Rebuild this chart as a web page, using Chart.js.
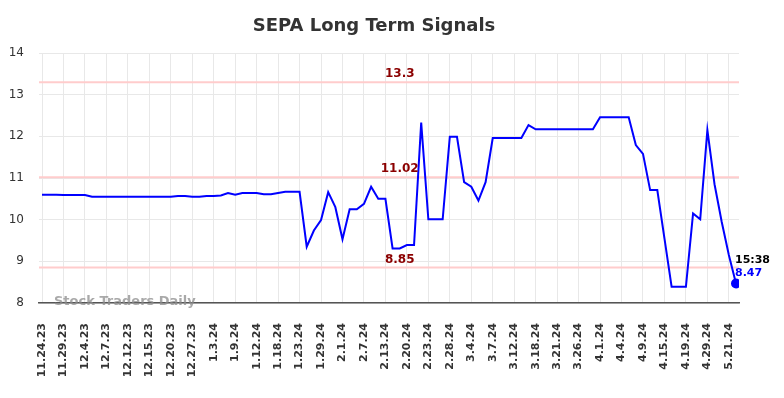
<!DOCTYPE html>
<html>
<head>
<meta charset="utf-8">
<script src="https://cdn.jsdelivr.net/npm/chart.js@4.4.1/dist/chart.umd.min.js"></script>
<style>
    html, body { margin: 0; padding: 0; background: #fff; }
    #wrap { width: 784px; height: 398px; position: relative; }
</style>
</head>
<body>
<div id="wrap"><canvas id="sepaChart"></canvas></div>
<script>
// Tick labels (one every 3 points)
const tickLabels = [
    '11.24.23', '11.29.23', '12.4.23', '12.7.23', '12.12.23', '12.15.23', '12.20.23', '12.27.23',
    '1.3.24', '1.9.24', '1.12.24', '1.18.24', '1.23.24', '1.29.24', '2.1.24', '2.7.24',
    '2.13.24', '2.20.24', '2.23.24', '2.28.24', '3.4.24', '3.7.24', '3.12.24', '3.18.24',
    '3.21.24', '3.26.24', '4.1.24', '4.4.24', '4.9.24', '4.15.24', '4.19.24', '4.29.24', '5.21.24'
];

// Signal values
const signalValues = [
    10.60, 10.60, 10.60, 10.59, 10.59, 10.59, 10.59, 10.55, 10.55, 10.55,
    10.55, 10.55, 10.55, 10.55, 10.55, 10.55, 10.55, 10.55, 10.55, 10.57,
    10.57, 10.55, 10.55, 10.57, 10.57, 10.58, 10.64, 10.60, 10.64, 10.64,
    10.64, 10.61, 10.61, 10.64, 10.67, 10.67, 10.67, 9.35, 9.74, 9.99,
    10.66, 10.30, 9.53, 10.25, 10.25, 10.38, 10.79, 10.50, 10.50, 9.31,
    9.31, 9.39, 9.39, 12.33, 10.01, 10.01, 10.01, 11.99, 11.99, 10.90,
    10.79, 10.46, 10.90, 11.96, 11.96, 11.96, 11.96, 11.96, 12.27, 12.17,
    12.17, 12.17, 12.17, 12.17, 12.17, 12.17, 12.17, 12.17, 12.46, 12.46,
    12.46, 12.46, 12.46, 11.79, 11.58, 10.71, 10.71, 9.55, 8.39, 8.39,
    8.39, 10.15, 10.01, 12.15, 10.85, 9.95, 9.15, 8.47
];

// Horizontal signal levels
const levelValues = [13.3, 11.02, 8.85];
const levelLabels = ['13.3', '11.02', '8.85'];

const lastTime = '15:38';
const lastIndex = signalValues.length - 1;

// draws title, level lines, watermark and last value tag
const extrasPlugin = {
    id: 'extras',
    beforeDatasetsDraw(chart) {
        const { ctx, chartArea, scales } = chart;
        ctx.save();
        ctx.strokeStyle = '#ffcccc';
        ctx.lineWidth = 2;
        levelValues.forEach(v => {
            const y = scales.y.getPixelForValue(v);
            ctx.beginPath();
            ctx.moveTo(chartArea.left, y);
            ctx.lineTo(chartArea.right, y);
            ctx.stroke();
        });
        ctx.restore();
    },
    afterDatasetsDraw(chart) {
        const { ctx, chartArea, scales } = chart;
        ctx.save();
        // title
        ctx.fillStyle = '#333';
        ctx.font = 'bold 18px "DejaVu Sans"';
        ctx.textAlign = 'center';
        ctx.textBaseline = 'middle';
        ctx.fillText('SEPA Long Term Signals', 374, 26);

        // level labels
        ctx.fillStyle = '#8b0000';
        ctx.font = 'bold 12px "DejaVu Sans"';
        const labelX = scales.x.getPixelForValue(50);
        levelValues.forEach((v, i) => {
            const y = scales.y.getPixelForValue(v);
            ctx.fillText(levelLabels[i], labelX, y - 8);
        });

        // watermark
        ctx.fillStyle = 'rgba(140,140,140,0.75)';
        ctx.font = 'bold 13px "DejaVu Sans"';
        ctx.textAlign = 'left';
        ctx.fillText('Stock Traders Daily', chartArea.left + 15, chartArea.bottom - 1);

        // last value tag
        const px = scales.x.getPixelForValue(lastIndex);
        const py = scales.y.getPixelForValue(signalValues[lastIndex]);
        ctx.font = 'bold 11px "DejaVu Sans"';
        ctx.fillStyle = '#000';
        ctx.fillText(lastTime, px - 1, py - 23);
        ctx.fillStyle = '#0000ff';
        ctx.fillText(signalValues[lastIndex].toFixed(2), px - 1, py - 10);
        ctx.restore();
    }
};

const ctx = document.getElementById('sepaChart').getContext('2d');
const sepaChart = new Chart(ctx, {
    type: 'line',
    data: {
        datasets: [{
            data: signalValues.map((v, i) => ({ x: i, y: v })),
            borderColor: '#0000ff',
            backgroundColor: '#0000ff',
            borderWidth: 2,
            tension: 0,
            pointRadius: c => c.dataIndex === lastIndex ? 4 : 0,
            pointHoverRadius: 0
        }]
    },
    options: {
        responsive: true,
        maintainAspectRatio: false,
        animation: false,
        events: [],
        layout: { padding: { left: 0, right: 45, top: 53, bottom: 0 } },
        plugins: {
            legend: { display: false },
            title: { display: false },
            tooltip: { enabled: false }
        },
        scales: {
            x: {
                type: 'linear',
                min: -0.42,
                max: lastIndex + 0.42,
                afterBuildTicks: axis => {
                    axis.ticks = tickLabels.map((_, i) => ({ value: i * 3 }));
                },
                afterFit: scale => { scale.height = 95; },
                grid: { color: '#e8e8e8', drawTicks: false },
                border: { display: true, color: '#555', width: 1.5 },
                ticks: {
                    autoSkip: false,
                    minRotation: 90,
                    maxRotation: 90,
                    padding: 20,
                    color: '#333',
                    font: { family: 'DejaVu Sans', size: 11, weight: 'bold' },
                    callback: value => tickLabels[Math.round(value / 3)]
                }
            },
            y: {
                min: 8,
                max: 14,
                afterFit: scale => { scale.width = 39; },
                grid: { color: '#e8e8e8', drawTicks: false },
                border: { display: false },
                ticks: {
                    stepSize: 1,
                    padding: 15,
                    color: '#333',
                    font: { family: 'DejaVu Sans', size: 12 }
                }
            }
        }
    },
    plugins: [extrasPlugin]
});
</script>
</body>
</html>
